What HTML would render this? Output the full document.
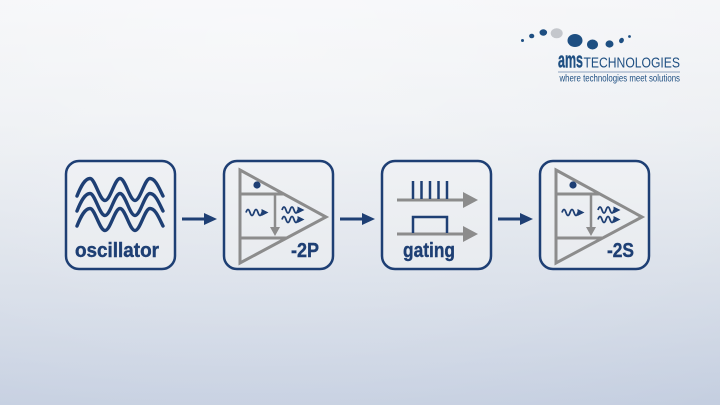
<!DOCTYPE html>
<html><head><meta charset="utf-8"><style>
html,body{margin:0;padding:0;}
body{width:720px;height:405px;overflow:hidden;background:linear-gradient(to bottom,#f3f4f7 0%,#eaedf1 30%,#dae0e9 60%,#c4cee0 100%);}
svg{display:block;}
text{font-family:"Liberation Sans",Arial,sans-serif;}
</style></head><body>
<svg width="720" height="405" viewBox="0 0 720 405" xmlns="http://www.w3.org/2000/svg">
<defs>
<radialGradient id="bg" cx="0.35" cy="0.1" r="1.1">
<stop offset="0" stop-color="#ffffff" stop-opacity="0.45"/>
<stop offset="1" stop-color="#ffffff" stop-opacity="0"/>
</radialGradient>
<linearGradient id="bf" x1="0" y1="0" x2="0" y2="1">
<stop offset="0" stop-color="#eff1f4"/>
<stop offset="1" stop-color="#e8ebef"/>
</linearGradient>
<g id="amp">
<polygon points="240,170 326,217 240,263" fill="none" stroke="#8c8c8c" stroke-width="3" stroke-linejoin="miter"/>
<line x1="240" y1="194" x2="284" y2="194" stroke="#8c8c8c" stroke-width="3"/>
<line x1="240" y1="238" x2="286" y2="238" stroke="#8c8c8c" stroke-width="3"/>
<line x1="275" y1="194" x2="275" y2="229" stroke="#8c8c8c" stroke-width="2.5"/>
<polygon points="270,227 280,227 275,236" fill="#8c8c8c"/>
<circle cx="257" cy="185" r="3.6" fill="#1e3f74"/>
<path d="M246,212.5 q2,-6 4,0 t4,0 t4,0 t4,0" fill="none" stroke="#1e3f74" stroke-width="1.8"/>
<polygon points="261.5,209 268.5,212.5 261.5,216" fill="#1e3f74"/>
<path d="M282,210 q2,-6 4,0 t4,0 t4,0 t4,0" fill="none" stroke="#1e3f74" stroke-width="1.8"/>
<polygon points="297.5,206.5 304.5,210 297.5,213.5" fill="#1e3f74"/>
<path d="M282,219.5 q2,-6 4,0 t4,0 t4,0 t4,0" fill="none" stroke="#1e3f74" stroke-width="1.8"/>
<polygon points="297.5,216 304.5,219.5 297.5,223" fill="#1e3f74"/>
</g>
<g id="arr">
<line x1="182" y1="219" x2="206" y2="219" stroke="#1e3f74" stroke-width="3"/>
<polygon points="204,213 217,219 204,225" fill="#1e3f74"/>
</g>
</defs>
<rect width="720" height="405" fill="url(#bg)"/>

<!-- logo -->
<circle cx="522.5" cy="40.5" r="1.5" fill="#1e4f82"/>
<ellipse cx="531.7" cy="36" rx="2.6" ry="2.3" fill="#1e4f82"/>
<ellipse cx="543.3" cy="32.5" rx="3.8" ry="3.2" fill="#1e4f82"/>
<ellipse cx="556.7" cy="33.3" rx="6" ry="5" fill="#c4c7cc"/>
<ellipse cx="575" cy="40.5" rx="7.5" ry="6.5" fill="#1e4f82"/>
<ellipse cx="592.5" cy="44.5" rx="5.5" ry="5" fill="#1e4f82"/>
<ellipse cx="609.5" cy="44" rx="4" ry="3.6" fill="#1e4f82"/>
<ellipse cx="621.5" cy="40.5" rx="2.3" ry="2.8" fill="#1e4f82" transform="rotate(30 621.5 40.5)"/>
<circle cx="629.5" cy="36.5" r="1.4" fill="#1e4f82"/>
<text x="558" y="67.7" font-size="22" font-weight="bold" fill="#1e4f82" textLength="25" lengthAdjust="spacingAndGlyphs" stroke="#1e4f82" stroke-width="0.4">ams</text>
<text x="583.5" y="67.7" font-size="15" fill="#1e4f82" textLength="96.5" lengthAdjust="spacingAndGlyphs">TECHNOLOGIES</text>
<line x1="558" y1="72" x2="680" y2="72" stroke="#8ea3bf" stroke-width="1"/>
<text x="559.5" y="81.5" font-size="10" fill="#1e4f82" textLength="120.5" lengthAdjust="spacingAndGlyphs">where technologies meet solutions</text>

<!-- boxes -->
<rect x="66" y="161" width="109" height="108" rx="13" fill="url(#bf)" stroke="#1e3f74" stroke-width="2.5"/>
<rect x="224" y="161" width="109" height="108" rx="13" fill="url(#bf)" stroke="#1e3f74" stroke-width="2.5"/>
<rect x="382" y="161" width="109" height="108" rx="13" fill="url(#bf)" stroke="#1e3f74" stroke-width="2.5"/>
<rect x="540" y="161" width="109" height="108" rx="13" fill="url(#bf)" stroke="#1e3f74" stroke-width="2.5"/>

<!-- arrows between -->
<use href="#arr"/>
<use href="#arr" transform="translate(158 0)"/>
<use href="#arr" transform="translate(316 0)"/>

<!-- oscillator -->
<g fill="none" stroke="#1e3f74" stroke-width="3.4" stroke-linecap="round">
<path d="M77,196 C81,186 85,178.5 90,178.5 S99.6,200.5 105,200.5 S114.6,178.5 120,178.5 S129.6,200.5 135,200.5 S144.6,178.5 150,178.5 S159,188 163,196"/>
<path d="M77,211 C81,201 85,193.5 90,193.5 S99.6,215.5 105,215.5 S114.6,193.5 120,193.5 S129.6,215.5 135,215.5 S144.6,193.5 150,193.5 S159,203 163,211"/>
<path d="M77,226 C81,216 85,208.5 90,208.5 S99.6,230.5 105,230.5 S114.6,208.5 120,208.5 S129.6,230.5 135,230.5 S144.6,208.5 150,208.5 S159,218 163,226"/>
</g>
<g font-weight="bold" fill="#1e3f74" stroke="#1e3f74" stroke-width="0.4">
<text x="75" y="257" font-size="20" textLength="84" lengthAdjust="spacingAndGlyphs">oscillator</text>
<text x="403" y="257" font-size="20" textLength="52" lengthAdjust="spacingAndGlyphs">gating</text>
</g>

<!-- -2P -->
<use href="#amp"/>
<text x="291" y="257" font-size="20" font-weight="bold" fill="#1e3f74" stroke="#1e3f74" stroke-width="0.4" textLength="28" lengthAdjust="spacingAndGlyphs">-2P</text>

<!-- gating -->
<line x1="397" y1="200" x2="465" y2="200" stroke="#8c8c8c" stroke-width="3"/>
<polygon points="463,192 478,200 463,208" fill="#8c8c8c"/>
<g stroke="#1e3f74" stroke-width="2.5">
<line x1="413" y1="181" x2="413" y2="199"/>
<line x1="421.5" y1="181" x2="421.5" y2="199"/>
<line x1="430" y1="181" x2="430" y2="199"/>
<line x1="438.5" y1="181" x2="438.5" y2="199"/>
<line x1="447" y1="181" x2="447" y2="199"/>
</g>
<line x1="397" y1="234" x2="465" y2="234" stroke="#8c8c8c" stroke-width="3"/>
<polygon points="463,226 478,234 463,242" fill="#8c8c8c"/>
<path d="M413,233 V217 H447 V233" fill="none" stroke="#1e3f74" stroke-width="2.5"/>

<!-- -2S -->
<use href="#amp" transform="translate(316 0)"/>
<text x="607" y="257" font-size="20" font-weight="bold" fill="#1e3f74" stroke="#1e3f74" stroke-width="0.4" textLength="27" lengthAdjust="spacingAndGlyphs">-2S</text>
</svg>
</body></html>
